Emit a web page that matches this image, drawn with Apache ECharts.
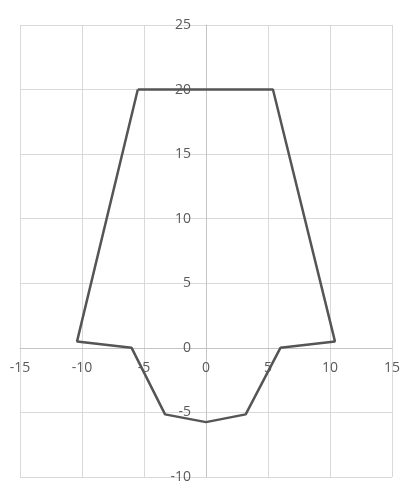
<!DOCTYPE html>
<html lang="en">
<head>
    <meta charset="UTF-8">
    <title>Outline | ECharts</title>
    <script src="https://cdn.jsdelivr.net/npm/echarts@6/dist/echarts.min.js"></script>
    <style>
        html, body { margin: 0; padding: 0; background: #fff; }
    </style>
</head>
<body>
<div id="chart" style="width: 417px; height: 495px;"></div>

<script type="text/javascript">
    // outline points, in drawing order (closed shape)
    var xValues = [-5.5, 5.4, 10.4, 6.0, 3.2, 0, -3.3, -6.0, -10.4, -5.5];
    var yValues = [20, 20, 0.5, 0, -5.15, -5.75, -5.15, 0, 0.5, 20];

    var xRange = [-15, 15];
    var yRange = [-10, 25];
    var tickStep = 5;

    var points = xValues.map(function (x, i) {
        return [x, yValues[i]];
    });

    var gridBox = { left: 20, right: 25, top: 25, bottom: 18 };
    var width = 417, height = 495;

    // move the axes onto the zero lines
    var plotW = width - gridBox.left - gridBox.right;
    var plotH = height - gridBox.top - gridBox.bottom;
    var yAxisOffset = -plotW * (0 - xRange[0]) / (xRange[1] - xRange[0]);
    var xAxisOffset = -plotH * (0 - yRange[0]) / (yRange[1] - yRange[0]);

    var myChart = echarts.init(document.getElementById('chart'));

    var labelStyle = {
        color: '#5a5a5a',
        fontFamily: 'Open Sans',
        fontSize: 14
    };

    var option = {
        animation: false,
        grid: {
            left: gridBox.left,
            right: gridBox.right,
            top: gridBox.top,
            bottom: gridBox.bottom,
            containLabel: false,
            outerBoundsMode: 'none'
        },
        xAxis: {
            type: 'value',
            position: 'bottom',
            offset: xAxisOffset,
            min: xRange[0],
            max: xRange[1],
            interval: tickStep,
            axisLine: {
                show: true,
                onZero: false,
                lineStyle: { color: '#c4c4c4', width: 1 }
            },
            axisTick: { show: false },
            axisLabel: Object.assign({ margin: 13 }, labelStyle),
            splitLine: {
                show: true,
                lineStyle: { color: '#d9d9d9', width: 1 }
            }
        },
        yAxis: {
            type: 'value',
            position: 'left',
            offset: yAxisOffset,
            min: yRange[0],
            max: yRange[1],
            interval: tickStep,
            axisLine: {
                show: true,
                onZero: false,
                lineStyle: { color: '#c4c4c4', width: 1 }
            },
            axisTick: { show: false },
            axisLabel: Object.assign({ margin: 15 }, labelStyle),
            splitLine: {
                show: true,
                lineStyle: { color: '#d9d9d9', width: 1 }
            }
        },
        series: [
            {
                type: 'line',
                data: points,
                symbol: 'none',
                lineStyle: { color: '#555555', width: 2.5 },
                z: 5
            }
        ]
    };

    myChart.setOption(option);
</script>
</body>
</html>
